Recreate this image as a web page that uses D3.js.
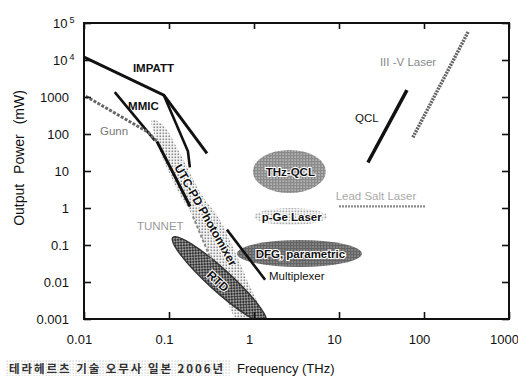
<!DOCTYPE html>
<html>
<head>
<meta charset="utf-8">
<script src="https://cdn.jsdelivr.net/npm/d3@7"></script>
<style>
  body { margin: 0; background: #fff; }
  svg { font-family: "Liberation Sans", Arial, Helvetica, sans-serif; }
</style>
</head>
<body>
<script>
// axis ticks
const xTicks = [0.01, 0.1, 1, 10, 100, 1000]
const xTickLabels = ["0.01", "0.1", "1", "10", "100", "1000"]
const yTicks = [0.001, 0.01, 0.1, 1, 10, 100, 1000, 1e4, 1e5]
const yTickLabels = ["0.001", "0.01", "0.1", "1", "10", "100", "1000", "10^4", "10^5"]

// line sources (frequency THz, power mW)
const impattFreq = [0.01, 0.087, 0.28]
const impattPower = [12000, 1120, 30]
const impattBranchFreq = [0.087, 0.167, 0.176]
const impattBranchPower = [1120, 34, 12.6]
const mmicFreq = [0.023, 0.068]
const mmicPower = [1350, 67]
const gunnFreq = [0.0105, 0.057, 0.072]
const gunnPower = [1050, 111, 63]
const gunnTailFreq = [0.072, 0.111, 0.177]
const gunnTailPower = [63, 9.2, 1.1]
const tunnettFreq = [0.191, 0.32]
const tunnettPower = [0.59, 0.035]
const multiplexerFreq = [0.48, 1.35]
const multiplexerPower = [0.26, 0.0115]
const qclFreq = [21.9, 63]
const qclPower = [17, 1530]
const iiivFreq = [74, 330]
const iiivPower = [81, 57000]
const leadSaltFreq = [10, 103]
const leadSaltPower = [1.1, 1.1]

// UTC-PD photomixer band outline
const utcFreq = [0.063, 0.085, 0.128, 0.177, 0.244, 0.398, 0.551, 0.828, 1.24, 0.631, 0.398, 0.265, 0.187, 0.135, 0.097, 0.074]
const utcPower = [239, 175, 37, 8.8, 2.24, 0.474, 0.1, 0.0113, 0.001, 0.001, 0.0155, 0.1, 0.647, 2.24, 10.6, 50]

// oval regions: frequency range, power range
const ovalNames = ["THz-QCL", "p-Ge Laser", "DFG, parametric"]
const ovalFreqLo = [0.97, 1.0, 0.63]
const ovalFreqHi = [7.0, 7.3, 18.6]
const ovalPowerLo = [2.54, 0.347, 0.0254]
const ovalPowerHi = [37, 1.0, 0.136]

// RTD: tilted oval between two end points
const rtdFreq = [0.111, 1.38]
const rtdPower = [0.16, 0.00083]

// labels
const labelText = ["IMPATT", "MMIC", "Gunn", "TUNNET", "Multiplexer", "QCL", "III -V Laser", "Lead Salt Laser"]
const labelFreq = [0.0376, 0.033, 0.0154, 0.042, 1.5, 15.4, 30.3, 27.2]
const labelPower = [4740, 446, 94, 0.254, 0.0113, 211, 6890, 1.65]

const w = 518
const h = 376
const pLeft = 84, pRight = 509, pTop = 23, pBottom = 319

const x = d3.scaleLog().domain([0.01, 1000]).range([pLeft, pRight])
const y = d3.scaleLog().domain([0.001, 1e5]).range([pBottom, pTop])

const svg = d3.select("body").append("svg")
              .attr("width", w)
              .attr("height", h)

const defs = svg.append("defs")
defs.append("clipPath").attr("id", "plot")
    .append("rect").attr("x", pLeft).attr("y", pTop)
    .attr("width", pRight - pLeft).attr("height", pBottom - pTop)

function tone(id, size, bg, dot, ds) {
    const p = defs.append("pattern").attr("id", id)
                  .attr("width", size).attr("height", size)
                  .attr("patternUnits", "userSpaceOnUse")
    p.append("rect").attr("width", size).attr("height", size).attr("fill", bg)
    p.append("rect").attr("x", 0.5).attr("y", 0.5).attr("width", ds).attr("height", ds).attr("fill", dot)
}
tone("utcTone", 3, "#f6f6f6", "#8c8c8c", 1.6)
tone("qclTone", 3, "#8a8a8a", "#dedede", 1.2)
tone("pgeTone", 3, "#ffffff", "#a8a8a8", 1.8)
tone("dfgTone", 3, "#646464", "#c4c4c4", 1.1)
tone("capTone", 3, "#ffffff", "#c4c4c4", 1.2)

const rtdPat = defs.append("pattern").attr("id", "rtdTone")
                   .attr("width", 4).attr("height", 4)
                   .attr("patternUnits", "userSpaceOnUse")
rtdPat.append("rect").attr("width", 4).attr("height", 4).attr("fill", "#9a9a9a")
rtdPat.append("path").attr("d", "M0,0L4,4M4,0L0,4").attr("stroke", "#333").attr("stroke-width", 1)

const plot = svg.append("g").attr("clip-path", "url(#plot)")

const line = d3.line().x(d => x(d[0])).y(d => y(d[1]))

// UTC-PD band
plot.append("path")
    .datum(d3.zip(utcFreq, utcPower))
    .attr("d", d3.line().x(d => x(d[0])).y(d => y(d[1])).curve(d3.curveCatmullRomClosed))
    .attr("fill", "url(#utcTone)")

// RTD oval
const r1 = [x(rtdFreq[0]), y(rtdPower[0])]
const r2 = [x(rtdFreq[1]), y(rtdPower[1])]
const rtdAngle = Math.atan2(r2[1] - r1[1], r2[0] - r1[0]) * 180 / Math.PI
const rcx = (r1[0] + r2[0]) / 2, rcy = (r1[1] + r2[1]) / 2
plot.append("ellipse")
    .attr("cx", rcx)
    .attr("cy", rcy)
    .attr("rx", Math.hypot(r2[0] - r1[0], r2[1] - r1[1]) / 2)
    .attr("ry", 11)
    .attr("transform", "rotate(" + rtdAngle + "," + rcx + "," + rcy + ")")
    .attr("fill", "url(#rtdTone)")
    .attr("stroke", "#333")
    .attr("stroke-width", 1.5)

// other ovals
const ovalFill = ["url(#qclTone)", "url(#pgeTone)", "url(#dfgTone)"]
plot.selectAll(".oval")
    .data(ovalNames)
    .enter()
    .append("ellipse")
    .attr("class", "oval")
    .attr("cx", (d, i) => (x(ovalFreqLo[i]) + x(ovalFreqHi[i])) / 2)
    .attr("cy", (d, i) => (y(ovalPowerLo[i]) + y(ovalPowerHi[i])) / 2)
    .attr("rx", (d, i) => (x(ovalFreqHi[i]) - x(ovalFreqLo[i])) / 2)
    .attr("ry", (d, i) => (y(ovalPowerLo[i]) - y(ovalPowerHi[i])) / 2)
    .attr("fill", (d, i) => ovalFill[i])

// lines
const lines = [
    [impattFreq, impattPower, "#111", 3, null],
    [impattBranchFreq, impattBranchPower, "#111", 2.6, null],
    [mmicFreq, mmicPower, "#111", 2.6, null],
    [gunnFreq, gunnPower, "#666", 3, "3,1.5"],
    [gunnTailFreq, gunnTailPower, "#111", 3, null],
    [tunnettFreq, tunnettPower, "#8a8a8a", 2, "3,2"],
    [multiplexerFreq, multiplexerPower, "#111", 2.6, null],
    [qclFreq, qclPower, "#111", 3.5, null],
    [iiivFreq, iiivPower, "#666", 3.5, "2,1"],
    [leadSaltFreq, leadSaltPower, "#8a8a8a", 2.2, "2,1"]
]
lines.forEach(l => {
    plot.append("path")
        .datum(d3.zip(l[0], l[1]))
        .attr("d", line)
        .attr("fill", "none")
        .attr("stroke", l[2])
        .attr("stroke-width", l[3])
        .attr("stroke-dasharray", l[4])
})

// oval and band labels
plot.selectAll(".ovalLabel")
    .data(ovalNames)
    .enter()
    .append("text")
    .attr("x", (d, i) => (x(ovalFreqLo[i]) + x(ovalFreqHi[i])) / 2 + 1)
    .attr("y", (d, i) => (y(ovalPowerLo[i]) + y(ovalPowerHi[i])) / 2)
    .attr("dy", "0.36em")
    .attr("text-anchor", "middle")
    .attr("font-size", "11.5px")
    .attr("font-weight", "bold")
    .attr("fill", "#111")
    .attr("stroke", "#fff")
    .attr("stroke-width", 2.2)
    .attr("paint-order", "stroke")
    .text(d => d)

const ux = x(0.272), uy = y(0.647)
plot.append("text")
    .attr("transform", "translate(" + ux + "," + uy + ") rotate(60.5)")
    .attr("text-anchor", "middle")
    .attr("dy", "0.36em")
    .attr("font-size", "12px")
    .attr("font-weight", "bold")
    .attr("fill", "#111")
    .attr("stroke", "#fff")
    .attr("stroke-width", 2)
    .attr("paint-order", "stroke")
    .text("UTC-PD Photomixer")

const rx0 = x(0.377), ry0 = y(0.0106)
plot.append("text")
    .attr("transform", "translate(" + rx0 + "," + ry0 + ") rotate(" + rtdAngle + ")")
    .attr("text-anchor", "middle")
    .attr("dy", "0.36em")
    .attr("font-size", "12px")
    .attr("font-weight", "bold")
    .attr("fill", "#111")
    .attr("stroke", "#fff")
    .attr("stroke-width", 2)
    .attr("paint-order", "stroke")
    .text("RTD")

const labelColor = ["#111", "#111", "#777", "#999", "#111", "#111", "#888", "#aaa"]
const labelBold = ["bold", "bold", "normal", "normal", "normal", "normal", "normal", "normal"]
const labelAnchor = ["start", "start", "start", "start", "start", "start", "start", "middle"]
svg.selectAll(".lab")
   .data(labelText)
   .enter()
   .append("text")
   .attr("class", "lab")
   .attr("x", (d, i) => x(labelFreq[i]))
   .attr("y", (d, i) => y(labelPower[i]))
   .attr("text-anchor", (d, i) => labelAnchor[i])
   .attr("font-size", "11.5px")
   .attr("font-weight", (d, i) => labelBold[i])
   .attr("fill", (d, i) => labelColor[i])
   .text(d => d)

// axes
const xAxis = d3.axisBottom(x).tickValues(xTicks)
                .tickSizeInner(-7).tickSizeOuter(0).tickPadding(16)
                .tickFormat((d, i) => xTickLabels[i])
const xAxisTop = d3.axisTop(x).tickValues(xTicks)
                   .tickSizeInner(-6).tickSizeOuter(0).tickFormat("")
const yAxis = d3.axisLeft(y).tickValues(yTicks)
                .tickSizeInner(-7).tickSizeOuter(0).tickPadding(15)
                .tickFormat("")
const yAxisRight = d3.axisRight(y).tickValues(yTicks)
                     .tickSizeInner(-7).tickSizeOuter(0).tickFormat("")

const gx = svg.append("g").attr("transform", "translate(0," + pBottom + ")").call(xAxis)
gx.selectAll("text").attr("dx", "-5px")
svg.append("g").attr("transform", "translate(0," + pTop + ")").call(xAxisTop)
const gy = svg.append("g").attr("transform", "translate(" + pLeft + ",0)").call(yAxis)
svg.append("g").attr("transform", "translate(" + pRight + ",0)").call(yAxisRight)

gy.selectAll(".tick text").each(function (d, i) {
    const t = d3.select(this)
    const lab = yTickLabels[i]
    if (lab.includes("^")) {
        const parts = lab.split("^")
        t.attr("text-anchor", "start").attr("x", -31)
        t.append("tspan").text(parts[0])
        t.append("tspan").attr("dx", "2px").attr("dy", "-0.5em").attr("font-size", "9px").text(parts[1])
    } else {
        t.text(lab)
    }
})

svg.selectAll(".domain").remove()
svg.selectAll(".tick line").attr("stroke", "#111").attr("stroke-width", 1.6)
svg.selectAll(".tick text").attr("font-size", "13px").attr("fill", "#111")
   .attr("font-family", "'Liberation Sans', Arial, sans-serif")

svg.append("rect")
   .attr("x", pLeft).attr("y", pTop)
   .attr("width", pRight - pLeft).attr("height", pBottom - pTop)
   .attr("fill", "none").attr("stroke", "#111").attr("stroke-width", 2)

// titles
svg.append("text")
   .attr("transform", "translate(24,158) rotate(-90)")
   .attr("text-anchor", "middle")
   .attr("font-size", "14px")
   .attr("word-spacing", "6px")
   .attr("fill", "#111")
   .text("Output Power (mW)")

svg.append("text")
   .attr("x", 237).attr("y", 373)
   .attr("font-size", "13px")
   .attr("fill", "#111")
   .text("Frequency (THz)")

svg.append("rect")
   .attr("x", 5).attr("y", 360).attr("width", 226).attr("height", 16)
   .attr("fill", "url(#capTone)")
svg.append("text")
   .attr("x", 9).attr("y", 373)
   .attr("font-size", "11.5px")
   .attr("font-weight", "bold")
   .attr("font-family", "'Noto Sans CJK KR', sans-serif")
   .attr("fill", "#333")
   .attr("textLength", 214)
   .attr("lengthAdjust", "spacing")
   .text("테라헤르츠 기술  오무사  일본  2006년")
</script>
</body>
</html>
